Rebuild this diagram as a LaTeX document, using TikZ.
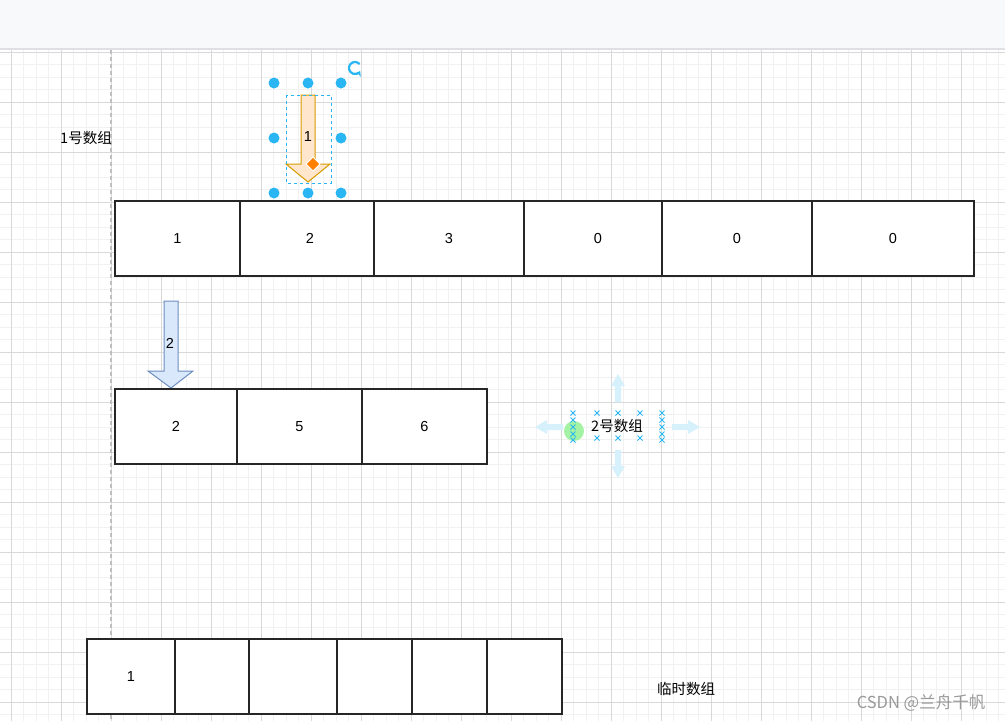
\documentclass[tikz,border=0pt]{standalone}
\usepackage{fontspec}
\usetikzlibrary{arrows.meta}
\setmainfont{Liberation Sans}
\newfontfamily\cjk{Noto Sans CJK SC}

\definecolor{handleblue}{HTML}{29B6F2}
\definecolor{hoverblue}{HTML}{D6F0FC}
\definecolor{orangefill}{HTML}{FFE6CC}
\definecolor{orangeline}{HTML}{D79B00}
\definecolor{bluefill}{HTML}{DAE8FC}
\definecolor{blueline}{HTML}{6C8EBF}
\definecolor{hovergreen}{HTML}{A4F2A4}
\definecolor{topbar}{HTML}{F8F9FA}
\definecolor{topline}{HTML}{DEE0E4}
\definecolor{minorcol}{HTML}{F1F1F1}
\definecolor{majorcol}{HTML}{D9D9D9}

\begin{document}
\begin{tikzpicture}[
					x = 1pt, y = -1pt,
					every node/.style = {font=\fontsize{14.5}{17}\selectfont, inner sep=0pt},
					cell/.style = {draw=black!85, line width=1.1pt, fill=white, minimum height=75pt},
					minorgrid/.style = {draw=minorcol, line width=0.8pt},
					majorgrid/.style = {draw=majorcol, line width=0.8pt},
					handle/.style = {circle, fill=handleblue, minimum size=11pt}
				]

					\useasboundingbox (0,0) rectangle (1005,721);

					\fill[topbar] (0,0) rectangle (1005,49);
					\foreach \i in {0,...,81} \draw[minorgrid] ({-1.5+12.5*\i},50) -- ({-1.5+12.5*\i},721);
					\foreach \i in {0,...,53} \draw[minorgrid] (0,{52+12.5*\i}) -- (1005,{52+12.5*\i});
					\foreach \i in {0,...,19} \draw[majorgrid] ({11+50*\i},50) -- ({11+50*\i},721);
					\foreach \i in {0,...,13} \draw[majorgrid] (0,{52+50*\i}) -- (1005,{52+50*\i});
					\draw[topline, line width=1.2pt] (0,49) -- (1005,49);
					\draw[black!25, line width=1.2pt, dash pattern=on 4pt off 3pt] (111,50) -- (111,721);

					\node (lbl1) at (86,138) {\cjk 1号数组};

					\node[cell, minimum width=125] (a1) at (177.5,238.5) {1};
					\node[cell, minimum width=140] (a2) at (310,238.5) {2};
					\node[cell, minimum width=150] (a3) at (449,238.5) {3};
					\node[cell, minimum width=148] (a4) at (598,238.5) {0};
					\node[cell, minimum width=150] (a5) at (737,238.5) {0};
					\node[cell, minimum width=162] (a6) at (893,238.5) {0};

					\draw[fill=orangefill, draw=orangeline, line width=1pt] (301,95) -- (315,95) -- (315,164) -- (330,164) -- (308,182) -- (286,164) -- (301,164) -- cycle;
					\node (n1) at (308,137) {1};
					\draw[handleblue, dashed, line width=0.9pt] (286,95) rectangle (331,183);
					\draw[fill=orange, draw=white, line width=0.9pt] (313,157) -- (320,164) -- (313,171) -- (306,164) -- cycle;
					\foreach \px/\py in {274/83, 308/83, 341/83, 274/138, 341/138, 274/193, 308/193, 341/193}
						\node[handle] at (\px,\py) {};
					\draw[handleblue, line width=2.2pt, -{Stealth[length=5pt,width=7pt]}] (355,68) ++(-40:6) arc (-40:-330:6);

					\draw[fill=bluefill, draw=blueline, line width=1pt] (164,301) -- (178,301) -- (178,371) -- (193,371) -- (171,388) -- (148,371) -- (164,371) -- cycle;
					\node (n2) at (170,343) {2};

					\node[cell, minimum width=122] (b1) at (176,426.5) {2};
					\node[cell, minimum width=125] (b2) at (299.5,426.5) {5};
					\node[cell, minimum width=125] (b3) at (424.5,426.5) {6};

					\foreach \a/\px/\py in {0/535/427, 180/700/427, -90/618/374, 90/618/478}
						\fill[hoverblue, shift={(\px,\py)}, rotate=\a] (0,0) -- (12,-7) -- (12,-3) -- (28,-3) -- (28,3) -- (12,3) -- (12,7) -- cycle;
					\fill[hovergreen] (574,431) circle (10);
					\foreach \px/\py in {573/413, 573/420, 573/427, 573/434, 573/440, 662/413, 662/420, 662/427, 662/434, 662/440, 597/413, 618/413, 640/413, 597/438, 618/438, 640/438}
						\draw[handleblue, line width=1pt] (\px-2.5,\py-2.5) -- (\px+2.5,\py+2.5) (\px-2.5,\py+2.5) -- (\px+2.5,\py-2.5);
					\node (lbl2) at (617,426) {\cjk 2号数组};

					\node[cell, minimum width=88] (c1) at (131,676.5) {1};
					\node[cell, minimum width=74] (c2) at (212,676.5) {};
					\node[cell, minimum width=88] (c3) at (293,676.5) {};
					\node[cell, minimum width=75] (c4) at (374.5,676.5) {};
					\node[cell, minimum width=75] (c5) at (449.5,676.5) {};
					\node[cell, minimum width=75] (c6) at (524.5,676.5) {};

					\node (lbl3) at (686,689) {\cjk 临时数组};
					\node[text=black!40, font=\fontsize{16.5}{19}\selectfont] (mark) at (921,703) {\cjk CSDN @兰舟千帆};

				\end{tikzpicture}
\end{document}
